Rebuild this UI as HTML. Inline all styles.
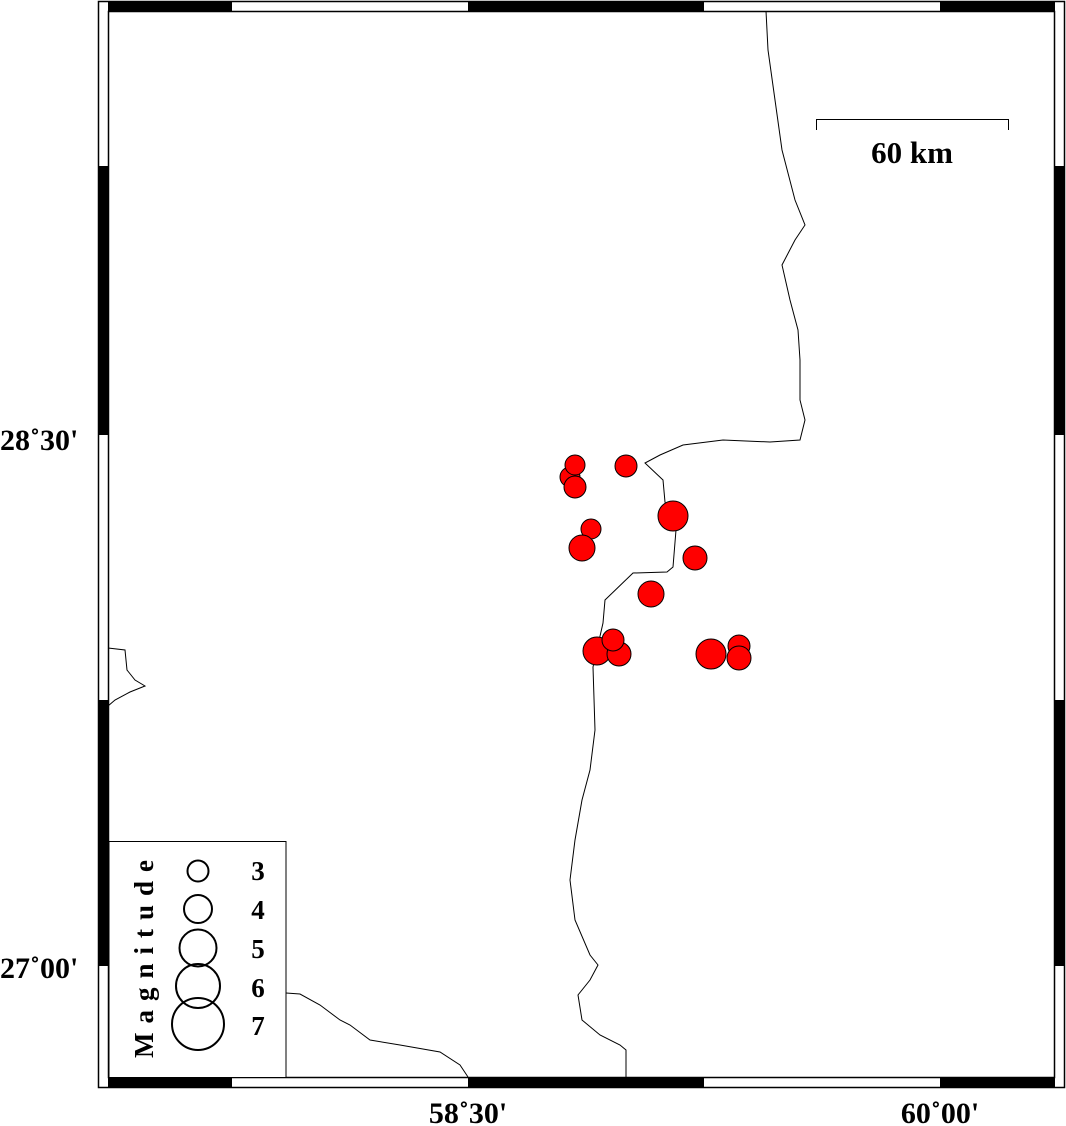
<!DOCTYPE html>
<html><head><style>
html,body{margin:0;padding:0;background:#fff;}
svg{display:block;}
text{font-family:"Liberation Serif",serif;font-weight:bold;fill:#000;}
</style></head><body>
<svg width="1066" height="1126" viewBox="0 0 1066 1126" xmlns="http://www.w3.org/2000/svg">
<rect width="1066" height="1126" fill="#fff"/>
<g fill="none" stroke="#000" stroke-width="1">
<path d="M766,11 L768,50 L775,100 L782,150 L795,200 L805,225 L795,240 L782,265 L790,300 L798,330 L800,360 L800,400 L805,420 L800,440 L770,442 L723,440 L683,445 L660,455 L645,463 L663,480 L665,502 L676,530 L673,567 L667,572 L633,573 L605,600 L603,623 L593,667 L595,730 L590,770 L582,800 L575,840 L570,880 L575,920 L590,955 L598,965 L590,980 L578,995 L582,1020 L600,1035 L620,1045 L626,1050 L626,1077"/>
<path d="M286,993 L300,994 L320,1005 L340,1020 L350,1025 L370,1040 L400,1045 L440,1052 L460,1065 L468,1077"/>
<path d="M108,648 L125,650 L127,670 L135,680 L145,686 L130,692 L115,700 L108,706"/>
</g>
<g fill="#f00" stroke="#000" stroke-width="1">
<circle cx="570" cy="477" r="10"/>
<circle cx="575" cy="465" r="10"/>
<circle cx="575" cy="487" r="11"/>
<circle cx="626" cy="466" r="11"/>
<circle cx="673" cy="516" r="15"/>
<circle cx="591" cy="529" r="10"/>
<circle cx="582" cy="548" r="13"/>
<circle cx="695" cy="558" r="12"/>
<circle cx="651" cy="594" r="13"/>
<circle cx="597" cy="651" r="14"/>
<circle cx="619" cy="654" r="12"/>
<circle cx="613" cy="640" r="11"/>
<circle cx="711" cy="654" r="15"/>
<circle cx="739" cy="646" r="11"/>
<circle cx="739" cy="658" r="12"/>
</g>
<rect x="98.5" y="1.5" width="966" height="1086" fill="none" stroke="#000" stroke-width="1.5"/>
<rect x="108.5" y="11.5" width="946" height="1066" fill="none" stroke="#000" stroke-width="1.5"/>
<g fill="#000">
<rect x="108" y="1" width="124" height="10"/><rect x="468" y="1" width="236" height="10"/><rect x="940" y="1" width="115" height="10"/>
<rect x="108" y="1077" width="124" height="10"/><rect x="468" y="1077" width="236" height="10"/><rect x="940" y="1077" width="115" height="10"/>
<rect x="98" y="166" width="10" height="269"/><rect x="98" y="700" width="10" height="266"/>
<rect x="1055" y="166" width="10" height="269"/><rect x="1055" y="700" width="10" height="266"/>
</g>
<path d="M816.5,130 L816.5,119.5 L1008.5,119.5 L1008.5,130" fill="none" stroke="#000" stroke-width="1"/>
<text x="912" y="163" font-size="31" text-anchor="middle">60 km</text>
<text x="0" y="450" font-size="30">28˚30'</text>
<text x="0" y="978" font-size="30">27˚00'</text>
<text x="468" y="1123" font-size="30" text-anchor="middle">58˚30'</text>
<text x="940" y="1123" font-size="30" text-anchor="middle">60˚00'</text>
<rect x="109" y="841.5" width="177" height="236" fill="#fff" stroke="#000" stroke-width="1"/>
<text transform="translate(153,1058) rotate(-90)" font-size="27" letter-spacing="9">Magnitude</text>
<g fill="none" stroke="#000" stroke-width="2">
<circle cx="198" cy="871" r="10.5"/>
<circle cx="198" cy="909" r="14"/>
<circle cx="198" cy="948" r="18.5"/>
<circle cx="198" cy="986" r="22"/>
<circle cx="198" cy="1024" r="26"/>
</g>
<g font-size="27" text-anchor="middle">
<text x="258" y="880">3</text>
<text x="258" y="919">4</text>
<text x="258" y="958">5</text>
<text x="258" y="997">6</text>
<text x="258" y="1035">7</text>
</g>
</svg>
</body></html>
